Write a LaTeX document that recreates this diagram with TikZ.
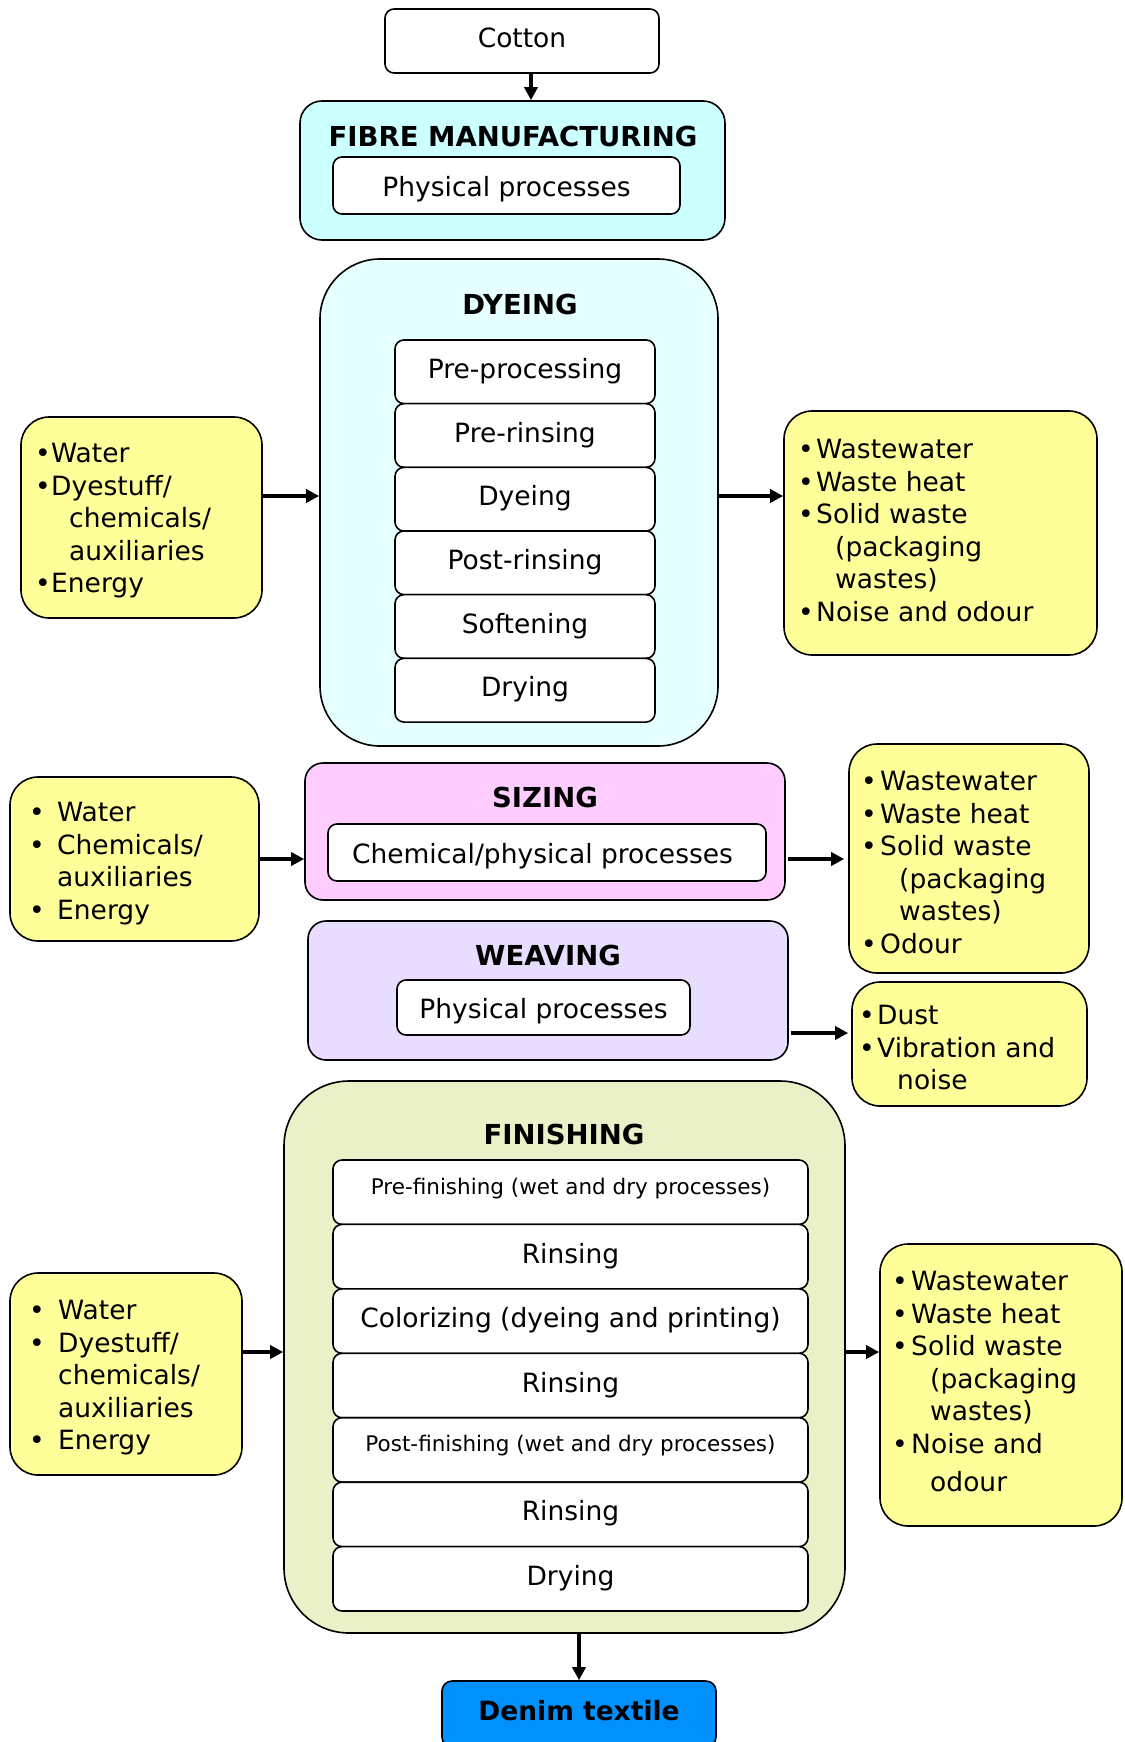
\documentclass[tikz,border=0pt]{standalone}
\usepackage{fontspec}
\setmainfont{DejaVu Sans}
\usetikzlibrary{arrows.meta}
\definecolor{fibrec}{RGB}{204,255,255}
\definecolor{dyec}{RGB}{230,255,255}
\definecolor{yelc}{RGB}{255,255,153}
\definecolor{sizec}{RGB}{255,204,255}
\definecolor{weavec}{RGB}{233,221,255}
\definecolor{finc}{RGB}{234,240,200}
\definecolor{denimc}{RGB}{0,145,255}
\newlength\bw \newlength\cw
\newcommand\itm[1]{\makebox[\bw][l]{•}#1}
\newcommand\cnt[1]{\hspace*{\cw}#1}
\tikzset{
  basebox/.style={draw=black, line width=1.6pt, inner sep=0pt, font=\fontsize{26.5}{32}\selectfont},
  whitebox/.style={basebox, fill=white, rounded corners=9pt, text height=19pt, text depth=6pt},
  lowwhite/.style={whitebox, text height=27pt, text depth=6pt},
  smallwhite/.style={basebox, fill=white, rounded corners=9pt, font=\fontsize{21.5}{26}\selectfont, text height=12pt, text depth=8pt},
  yelbox/.style={basebox, fill=yelc, rounded corners=28pt},
  ttl/.style={inner sep=0pt, font=\bfseries\fontsize{27.5}{30}\selectfont},
  lst/.style={inner sep=0pt, anchor=base west, font=\fontsize{26.5}{32.5}\selectfont},
  arr/.style={line width=3.5pt, -{Triangle[length=13pt,width=13pt]}},
}
\begin{document}
\begin{tikzpicture}[x=1pt,y=-1pt]
\useasboundingbox (0,0) rectangle (1124,1742);
\fill[white] (0,0) rectangle (1124,1742);

% Cotton
\node[whitebox, minimum width=274pt, minimum height=64pt] (cotton) at (522,41) {Cotton};

% Fibre manufacturing
\node[basebox, fill=fibrec, rounded corners=22pt, minimum width=425pt, minimum height=139pt] (fibre) at (512.5,170.5) {};
\node[ttl] (fibret) at (513,136) {FIBRE MANUFACTURING};
\node[lowwhite, minimum width=347pt, minimum height=57pt] (fibrep) at (506.5,185.5) {Physical processes};

% Dyeing
\node[basebox, fill=dyec, rounded corners=60pt, minimum width=398pt, minimum height=487pt] (dye) at (519,502.5) {};
\node[ttl] (dyet) at (520,304) {DYEING};
\node[whitebox, minimum width=260pt, minimum height=63.7pt] (d1) at (525,371.8) {Pre-processing};
\node[whitebox, minimum width=260pt, minimum height=63.7pt] (d2) at (525,435.5) {Pre-rinsing};
\node[whitebox, minimum width=260pt, minimum height=63.7pt] (d3) at (525,499.2) {Dyeing};
\node[whitebox, minimum width=260pt, minimum height=63.7pt] (d4) at (525,562.8) {Post-rinsing};
\node[whitebox, minimum width=260pt, minimum height=63.7pt] (d5) at (525,626.5) {Softening};
\node[whitebox, minimum width=260pt, minimum height=63.7pt] (d6) at (525,690.2) {Drying};

% Dyeing inputs / outputs
\node[yelbox, minimum width=241pt, minimum height=201pt] (in1) at (141.5,517.5) {};
\node[lst] (in1t) at (35,462.5) {\setlength\bw{16pt}\setlength\cw{34pt}\begin{tabular}[t]{@{}l@{}}\itm{Water}\\ \itm{Dyestuff/}\\ \cnt{chemicals/}\\ \cnt{auxiliaries}\\ \itm{Energy}\end{tabular}};
\node[yelbox, minimum width=313pt, minimum height=244pt] (out1) at (940.5,533) {};
\node[lst] (out1t) at (798,458.5) {\setlength\bw{18pt}\setlength\cw{37pt}\begin{tabular}[t]{@{}l@{}}\itm{Wastewater}\\ \itm{Waste heat}\\ \itm{Solid waste}\\ \cnt{(packaging}\\ \cnt{wastes)}\\ \itm{Noise and odour}\end{tabular}};

% Sizing
\node[basebox, fill=sizec, rounded corners=18pt, minimum width=480pt, minimum height=137pt] (size) at (545,831.5) {};
\node[ttl] (sizet) at (545,797) {SIZING};
\node[lowwhite, minimum width=438pt, minimum height=57pt] (sizep) at (547,852.5) {Chemical/physical processes\hspace*{9pt}};
\node[yelbox, minimum width=249pt, minimum height=164pt] (in2) at (134.5,859) {};
\node[lst] (in2t) at (29,821.5) {\setlength\bw{28pt}\setlength\cw{28pt}\begin{tabular}[t]{@{}l@{}}\itm{Water}\\ \itm{Chemicals/}\\ \cnt{auxiliaries}\\ \itm{Energy}\end{tabular}};
\node[yelbox, minimum width=240pt, minimum height=229pt] (out2) at (969,858.5) {};
\node[lst] (out2t) at (861,790.5) {\setlength\bw{19pt}\setlength\cw{38pt}\begin{tabular}[t]{@{}l@{}}\itm{Wastewater}\\ \itm{Waste heat}\\ \itm{Solid waste}\\ \cnt{(packaging}\\ \cnt{wastes)}\\ \itm{Odour}\end{tabular}};

% Weaving
\node[basebox, fill=weavec, rounded corners=18pt, minimum width=480pt, minimum height=139pt] (weave) at (548,990.5) {};
\node[ttl] (weavet) at (548,955) {WEAVING};
\node[lowwhite, minimum width=293pt, minimum height=55pt] (weavep) at (543.5,1007.5) {Physical processes};
\node[yelbox, minimum width=235pt, minimum height=124pt] (out3) at (969.5,1044) {};
\node[lst] (out3t) at (859,1024.5) {\setlength\bw{18pt}\setlength\cw{38pt}\begin{tabular}[t]{@{}l@{}}\itm{Dust}\\ \itm{Vibration and}\\ \cnt{noise}\end{tabular}};

% Finishing
\node[basebox, fill=finc, rounded corners=65pt, minimum width=561pt, minimum height=552pt] (fin) at (564.5,1357) {};
\node[ttl] (fint) at (564,1134) {FINISHING};
\node[smallwhite, minimum width=475pt, minimum height=64.4pt] (f1) at (570.5,1192.2) {Pre-finishing (wet and dry processes)};
\node[whitebox, minimum width=475pt, minimum height=64.4pt] (f2) at (570.5,1256.6) {Rinsing};
\node[whitebox, minimum width=475pt, minimum height=64.4pt] (f3) at (570.5,1321.1) {Colorizing (dyeing and printing)};
\node[whitebox, minimum width=475pt, minimum height=64.4pt] (f4) at (570.5,1385.5) {Rinsing};
\node[smallwhite, minimum width=475pt, minimum height=64.4pt] (f5) at (570.5,1449.9) {Post-finishing (wet and dry processes)};
\node[whitebox, minimum width=475pt, minimum height=64.4pt] (f6) at (570.5,1514.4) {Rinsing};
\node[whitebox, minimum width=475pt, minimum height=64.4pt] (f7) at (570.5,1578.8) {Drying};
\node[yelbox, minimum width=232pt, minimum height=202pt] (in3) at (126,1374) {};
\node[lst] (in3t) at (29,1319.5) {\setlength\bw{29pt}\setlength\cw{29pt}\begin{tabular}[t]{@{}l@{}}\itm{Water}\\ \itm{Dyestuff/}\\ \cnt{chemicals/}\\ \cnt{auxiliaries}\\ \itm{Energy}\end{tabular}};
\node[yelbox, minimum width=242pt, minimum height=282pt] (out4) at (1001,1385) {};
\node[lst] (out4t) at (892,1290.5) {\setlength\bw{19pt}\setlength\cw{38pt}\begin{tabular}[t]{@{}l@{}}\itm{Wastewater}\\ \itm{Waste heat}\\ \itm{Solid waste}\\ \cnt{(packaging}\\ \cnt{wastes)}\\ \itm{Noise and}\\[5.5pt] \cnt{odour}\end{tabular}};

% Denim
\node[basebox, fill=denimc, rounded corners=10pt, minimum width=274pt, minimum height=66pt, font=\bfseries\fontsize{26.5}{30}\selectfont, text height=19pt, text depth=6pt] (denim) at (579,1714) {Denim textile};

% Connectors
\draw[arr] ([xshift=9pt]cotton.south) -- ([xshift=9pt]cotton.south |- fibre.north);
\draw[arr] (in1.east |- 0,496) -- (dye.west |- 0,496);
\draw[arr] (dye.east |- 0,496) -- (out1.west |- 0,496);
\draw[arr] (in2.east |- 0,859) -- (size.west |- 0,859);
\draw[arr] ([xshift=2pt]size.east |- 0,859) -- ([xshift=-4pt]out2.west |- 0,859);
\draw[arr] ([xshift=2pt]weave.east |- 0,1033) -- ([xshift=-3pt]out3.west |- 0,1033);
\draw[arr] (in3.east |- 0,1352) -- (fin.west |- 0,1352);
\draw[arr] (fin.east |- 0,1352) -- (out4.west |- 0,1352);
\draw[arr] ([xshift=14.5pt]fin.south) -- ([xshift=14.5pt]fin.south |- denim.north);
\end{tikzpicture}
\end{document}
